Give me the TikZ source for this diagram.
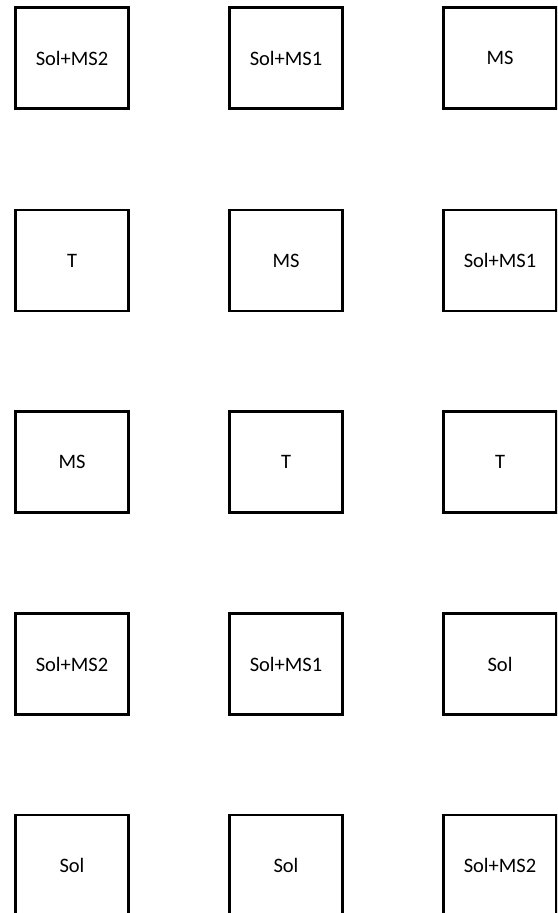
\documentclass[tikz,border=0pt]{standalone}
\usepackage{fontspec}
\setmainfont{Carlito}
\begin{document}
\begin{tikzpicture}[x=1pt,y=-1pt,
  cell/.style={draw=black, line width=2.2pt, rectangle, minimum width=113pt, minimum height=101pt, inner sep=0pt, font=\fontsize{20.5}{23}\selectfont, text=black}]
\useasboundingbox (0,0) rectangle (557,913);
\clip (0,0) rectangle (557,913);
\node[cell] (a1) at (72,58) {Sol+MS2};
\node[cell] (a2) at (286,58) {Sol+MS1};
\node[cell] (a3) at (500,58) {MS};
\node[cell] (b1) at (72,260.5) {T};
\node[cell] (b2) at (286,260.5) {MS};
\node[cell] (b3) at (500,260.5) {Sol+MS1};
\node[cell] (c1) at (72,462) {MS};
\node[cell] (c2) at (286,462) {T};
\node[cell] (c3) at (500,462) {T};
\node[cell] (d1) at (72,664) {Sol+MS2};
\node[cell] (d2) at (286,664) {Sol+MS1};
\node[cell] (d3) at (500,664) {Sol};
\node[cell] (e1) at (72,865.5) {Sol};
\node[cell] (e2) at (286,865.5) {Sol};
\node[cell] (e3) at (500,865.5) {Sol+MS2};
\end{tikzpicture}
\end{document}
